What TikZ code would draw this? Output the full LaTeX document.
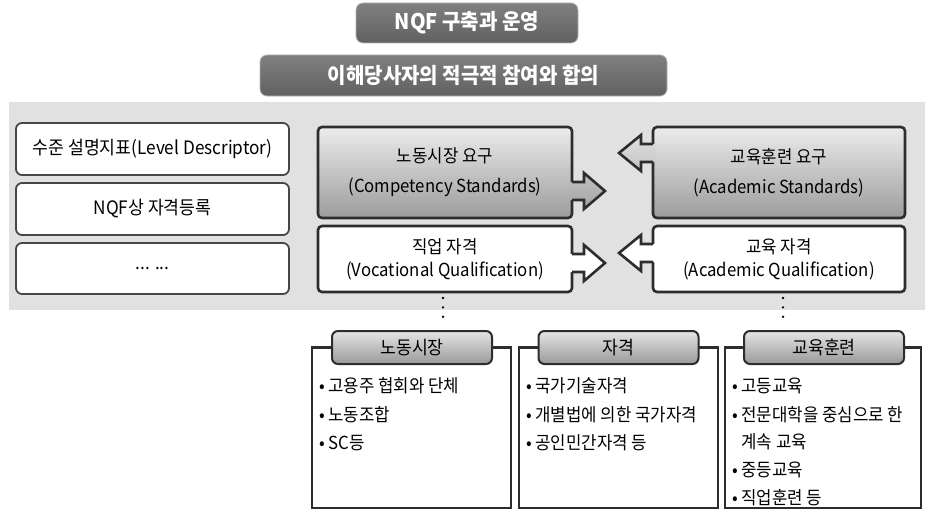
\documentclass[tikz,border=0pt]{standalone}
\usepackage{fontspec}
\setmainfont{Noto Sans CJK KR}[FakeStretch=0.93]
\usetikzlibrary{calc}

\definecolor{bandgray}{RGB}{225,225,225}
\definecolor{boxtop}{RGB}{236,236,236}
\definecolor{boxbot}{RGB}{156,156,156}
\definecolor{linedark}{RGB}{45,45,45}

\begin{document}
\begin{tikzpicture}[x=1pt,y=-1pt]
\tikzstyle{every node}+=[inner sep=0pt, outer sep=0pt]
\tikzstyle{banner}=[rectangle, rounded corners=7pt, draw=black!30, line width=0.8pt, top color=black!50, middle color=black!76, bottom color=black!62, text=white, font=\fontsize{21.5}{24}\selectfont\bfseries]
\tikzstyle{sidebox}=[rectangle, rounded corners=6pt, draw=black!72, line width=1.8pt, fill=white, minimum width=273pt, font=\fontsize{18.5}{21}\selectfont]
\tikzstyle{needbox}=[rectangle, rounded corners=4pt, draw=linedark, line width=2.6pt, top color=boxtop, bottom color=boxbot, align=center, font=\fontsize{18}{21}\selectfont]
\tikzstyle{qualbox}=[rectangle, rounded corners=4pt, draw=linedark, line width=2.6pt, fill=white, align=center, font=\fontsize{18}{21}\selectfont]
\tikzstyle{arrowline}=[draw=linedark, line width=2.6pt, line join=miter]
\tikzstyle{tab}=[rectangle, rounded corners=6pt, draw=linedark, line width=2pt, top color=black!10, bottom color=black!40, minimum width=160pt, minimum height=33pt, font=\fontsize{18.5}{21}\selectfont]
\tikzstyle{frame}=[draw=linedark, line width=2.2pt]
\tikzstyle{item}=[anchor=west, font=\fontsize{18}{21}\selectfont]
\tikzstyle{dots}=[draw=black, line width=2.6pt, line cap=round, dash pattern=on 0pt off 9.4pt]

\useasboundingbox (0,0) rectangle (925,511);

% titles
\draw (467,23) node[banner, minimum width=222pt, minimum height=40pt] (nqf) {NQF 구축과 운영};
\draw (463.5,75.5) node[banner, minimum width=407pt, minimum height=41pt] (agree) {이해당사자의 적극적 참여와 합의};

% gray band
\fill[bandgray] (9,102) rectangle (925,310);

% left column
\draw (152.5,149) node[sidebox, minimum height=52pt] (lvl) {수준 설명지표(Level Descriptor)};
\draw (152.5,209) node[sidebox, minimum height=52pt] (reg) {NQF상 자격등록};
\draw (152.5,268.5) node[sidebox, minimum height=51pt] (etc) {... ...};

% needs and qualifications
\draw (445,172.5) node[needbox, minimum width=254pt, minimum height=91pt] (cs) {노동시장 요구\\[9pt](Competency Standards)};
\draw (779,172.5) node[needbox, minimum width=252pt, minimum height=91pt] (as) {교육훈련 요구\\[9pt](Academic Standards)};
\draw (445,259) node[qualbox, minimum width=254pt, minimum height=66pt] (vq) {직업 자격\\[2pt](Vocational Qualification)};
\draw (779,259) node[qualbox, minimum width=252pt, minimum height=66pt] (aq) {교육 자격\\[2pt](Academic Qualification)};

% block arrows
\coordinate (csa) at ($(cs.east)+(0,18.5)$);
\shade[top color=black!24, bottom color=black!36] ($(csa)+(-3,-9)$) -- ++(15,0) -- ++(0,-9) -- ++(21,18) -- ++(-21,18) -- ++(0,-9) -- ++(-15,0) -- cycle;
\draw[arrowline] ($(csa)+(0,-9)$) -- ++(12,0) -- ++(0,-9) -- ++(21,18) -- ++(-21,18) -- ++(0,-9) -- ++(-12,0);
\coordinate (asa) at ($(as.west)+(0,-19.5)$);
\shade[top color=black!12, bottom color=black!24] ($(asa)+(3,-9)$) -- ++(-15,0) -- ++(0,-9) -- ++(-22,18) -- ++(22,18) -- ++(0,-9) -- ++(15,0) -- cycle;
\draw[arrowline] ($(asa)+(0,-9)$) -- ++(-12,0) -- ++(0,-9) -- ++(-22,18) -- ++(22,18) -- ++(0,-9) -- ++(12,0);
\coordinate (vqa) at ($(vq.east)+(0,4)$);
\fill[white] ($(vqa)+(-3,-9)$) -- ++(15,0) -- ++(0,-9) -- ++(21,18) -- ++(-21,18) -- ++(0,-9) -- ++(-15,0) -- cycle;
\draw[arrowline] ($(vqa)+(0,-9)$) -- ++(12,0) -- ++(0,-9) -- ++(21,18) -- ++(-21,18) -- ++(0,-9) -- ++(-12,0);
\coordinate (aqa) at ($(aq.west)+(0,-6)$);
\fill[white] ($(aqa)+(3,-9)$) -- ++(-15,0) -- ++(0,-9) -- ++(-22,18) -- ++(22,18) -- ++(0,-9) -- ++(15,0) -- cycle;
\draw[arrowline] ($(aqa)+(0,-9)$) -- ++(-12,0) -- ++(0,-9) -- ++(-22,18) -- ++(22,18) -- ++(0,-9) -- ++(12,0);

% bottom groups
\draw[frame] (332,347.5) -| (312,508) -| (511,347.5) -- ++(-19,0);
\draw (412,347.5) node[tab] (lm) {노동시장};
\draw[frame] (539,347.5) -| (519,508) -| (718,347.5) -- ++(-20,0);
\draw (618.5,347.5) node[tab] (ql) {자격};
\draw[frame] (744,347.5) -| (725,508) -| (921,347.5) -- ++(-17,0);
\draw (824,347.5) node[tab] (et) {교육훈련};

\draw[dots] ([yshift=-6pt]vq.south -| 443,0) -- ([yshift=5pt]lm.north -| 443,0);
\draw[dots] ([yshift=-6pt]aq.south -| 783,0) -- ([yshift=5pt]et.north -| 783,0);

% lists
\draw (319,386) node[item] (lm1) {• 고용주 협회와 단체};
\draw (319,414.5) node[item] (lm2) {• 노동조합};
\draw (319,443) node[item] (lm3) {• SC등};
\draw (526,386) node[item] (ql1) {• 국가기술자격};
\draw (526,414.5) node[item] (ql2) {• 개별법에 의한 국가자격};
\draw (526,443) node[item] (ql3) {• 공인민간자격 등};
\draw (732,386) node[item] (et1) {• 고등교육};
\draw (732,414.5) node[item] (et2) {• 전문대학을 중심으로 한};
\draw (732,442) node[item] (et3) {\phantom{• }계속 교육};
\draw (732,470) node[item] (et4) {• 중등교육};
\draw (732,497.5) node[item] (et5) {• 직업훈련 등};
\end{tikzpicture}
\end{document}
